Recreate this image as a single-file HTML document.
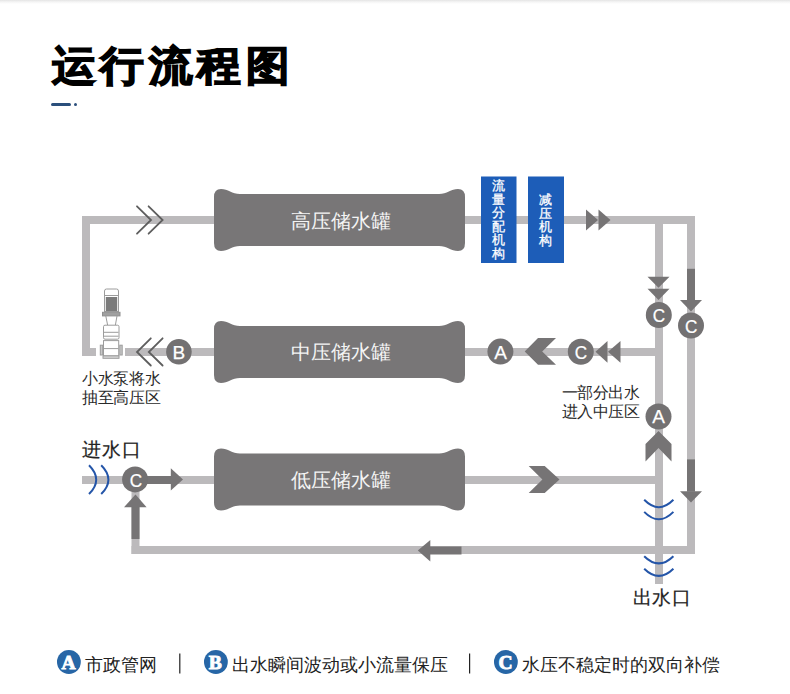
<!DOCTYPE html>
<html><head><meta charset="utf-8">
<style>
html,body{margin:0;padding:0;background:#fff;}
body{width:790px;height:694px;position:relative;overflow:hidden;font-family:"Liberation Sans",sans-serif;}
.t{position:absolute;white-space:nowrap;line-height:1;}
#topline{position:absolute;left:0;top:0;width:790px;height:4px;background:linear-gradient(#e4e4e4,#f4f4f4 45%,#fff);}
</style></head><body>
<div id="topline"></div>
<div class="t" style="left:51.5px;top:44.5px;font-size:44px;letter-spacing:4.6px;font-weight:900;color:#000;-webkit-text-stroke:1.6px #000;transform:scaleY(0.94);transform-origin:0 0;">运行流程图</div>
<div style="position:absolute;left:51px;top:103px;width:20px;height:3px;background:#2b4f7c;border-radius:1.5px;"></div>
<div style="position:absolute;left:74px;top:103px;width:3px;height:3px;background:#2b4f7c;border-radius:50%;"></div>

<svg width="790" height="694" style="position:absolute;left:0;top:0">
<defs>
<path id="tank" d="M0,8 Q0,0 7,0 C14,0 18,5 26,5 L225,5 C233,5 237,0 244,0 Q251,0 251,8 L251,54 Q251,62 244,62 C237,62 233,57 225,57 L26,57 C18,57 14,62 7,62 Q0,62 0,54 Z"/>
</defs>
<g fill="#bcbabc">
  <!-- left vertical -->
  <rect x="82" y="216" width="8" height="140"/>
  <!-- top pipe -->
  <rect x="82" y="216" width="613" height="8"/>
  <!-- outer right -->
  <rect x="687" y="216" width="8" height="338"/>
  <!-- inner right -->
  <rect x="655" y="216" width="8" height="368"/>
  <!-- mid pipe left stub -->
  <rect x="82" y="348" width="14" height="8"/>
  <rect x="125" y="348" width="538" height="8"/>
  <!-- low pipe -->
  <rect x="82" y="476" width="581" height="8"/>
  <!-- bottom pipe -->
  <rect x="131.5" y="546" width="563.5" height="8"/>
  <rect x="131.5" y="490" width="8" height="64"/>
</g>
<g fill="#787677">
  <use href="#tank" x="214" y="189"/>
  <use href="#tank" x="214" y="321"/>
  <use href="#tank" x="214" y="448.5"/>
</g>
<!-- blue boxes -->
<rect x="481" y="176.5" width="35.5" height="86.5" fill="#1d5db8"/>
<rect x="528" y="176.5" width="36" height="86.5" fill="#1d5db8"/>

<!-- top-left double chevrons -->
<g fill="none" stroke="#5e5e5e" stroke-width="1.8" stroke-linecap="round">
  <polyline points="137,206.3 151,220 137,233.7"/>
  <polyline points="148.6,206.3 162.6,220 148.6,233.7"/>
  <polyline points="150.8,338.3 137,352 150.8,365.5"/>
  <polyline points="162.6,338.3 148.8,352 162.6,365.5"/>
</g>
<g fill="#767475">
  <!-- right triangles on top pipe -->
  <polygon points="586,209.5 598,220 586,230.5"/>
  <polygon points="598.5,209.5 610.5,220 598.5,230.5"/>
  <!-- down triangles on inner pipe -->
  <polygon points="647.5,276.8 669.5,276.8 658.5,287.8"/>
  <polygon points="647.5,288.8 669.5,288.8 658.5,300"/>
  <!-- dark down arrow outer pipe -->
  <rect x="687" y="268.8" width="8" height="32"/>
  <polygon points="680,300 702,300 691,311.5"/>
  <!-- mid pipe left triangles -->
  <polygon points="595.5,351.8 607.5,341 607.5,362.7"/>
  <polygon points="608,351.8 620.5,341 620.5,362.7"/>
  <!-- mid chevron -->
  <polygon points="524.7,351.6 538,338 556,338 542.2,351.6 556,364.8 538,364.8"/>
  <!-- low chevron right -->
  <polygon points="528.7,466 544.7,466 559.5,479.5 544.7,493 528.7,493 542.4,479.5"/>
  <!-- up chevron A -->
  <polygon points="658.5,431 671.5,444 671.5,461.5 658.5,448 645.5,461.5 645.5,444"/>
  <!-- outer pipe lower dark arrow -->
  <rect x="687" y="459.4" width="8" height="32"/>
  <polygon points="680,491.3 702,491.3 691,502.6"/>
  <!-- bottom left arrow -->
  <rect x="430" y="546.5" width="31.5" height="8"/>
  <polygon points="417.8,550.5 430.3,540 430.3,561.6"/>
  <!-- low left right arrow -->
  <rect x="140" y="476" width="31" height="8"/>
  <polygon points="170.8,468.3 183,479.5 170.8,490.5"/>
  <!-- up arrow -->
  <rect x="131.5" y="507" width="8" height="32"/>
  <polygon points="124,507.2 146.6,507.2 135.5,494.5"/>
</g>
<!-- circles -->
<g fill="#737172">
  <circle cx="178.9" cy="351.7" r="12.8"/>
  <circle cx="500.4" cy="351.6" r="13"/>
  <circle cx="580.8" cy="351.7" r="13"/>
  <circle cx="658.8" cy="315" r="13"/>
  <circle cx="691" cy="325.5" r="13"/>
  <circle cx="658.5" cy="416.5" r="13"/>
  <circle cx="135.1" cy="479.4" r="13"/>
</g>
<!-- blue arcs -->
<g fill="none" stroke="#2455a8" stroke-width="2">
  <path d="M644.2,499.8 Q658.8,514.6 673.4,499.8"/>
  <path d="M644.2,511.9 Q658.8,526.7 673.4,511.9"/>
  <path d="M644.2,556.2 Q658.8,570.6 673.4,556.2"/>
  <path d="M644.2,568.7 Q658.8,583 673.4,568.7"/>
  <path d="M89,465.3 Q103.4,479.6 89,494"/>
  <path d="M101.2,465.3 Q115.6,479.6 101.2,494"/>
</g>
<!-- pump -->
<g fill="#fff" stroke="#9c9c9c" stroke-width="1">
  <path d="M104.5,296 L104.5,291 Q104.5,289 106.5,289 L116.5,289 Q118.5,289 118.5,291 L118.5,296 Z"/>
  <rect x="104.5" y="295.5" width="14" height="16"/>
  <rect x="102.5" y="312.3" width="17.5" height="3.6" fill="#a0a0a0" stroke="#8f8f8f"/>
  <path d="M105.8,316 L107.6,325 M117,316 L115.4,325" fill="none"/>
  <rect x="103.5" y="325.2" width="15.5" height="14" rx="1.5"/>
  <path d="M104,332.3 H118.5 M104,336.2 H118.5" fill="none"/>
  <rect x="103.5" y="340.6" width="15.2" height="15.3"/>
  <path d="M104,348.6 H118.5" fill="none"/>
  <rect x="100.3" y="345.2" width="2.4" height="9.8" fill="#c8c8c8"/>
  <rect x="119.8" y="345.2" width="2.4" height="9.8" fill="#c8c8c8"/>
  <rect x="103" y="355.9" width="16" height="2.4" fill="#d8d8d8"/>
</g>
<rect x="105.8" y="297" width="11.4" height="14" fill="#7b7b7b"/>
</svg>

<!-- tank labels -->
<div class="t" style="left:290.5px;top:210.5px;font-size:20px;color:#f4f4f4;">高压储水罐</div>
<div class="t" style="left:290.5px;top:342px;font-size:20px;color:#f4f4f4;">中压储水罐</div>
<div class="t" style="left:290.5px;top:469.5px;font-size:20px;color:#f4f4f4;">低压储水罐</div>
<!-- blue box text -->
<div class="t" style="left:492px;top:179px;width:14px;font-size:13px;line-height:13.5px;color:#fff;-webkit-text-stroke:0.3px #fff;white-space:normal;">流量分配机构</div>
<div class="t" style="left:539px;top:193px;width:14px;font-size:13px;line-height:13.5px;color:#fff;-webkit-text-stroke:0.3px #fff;white-space:normal;">减压机构</div>
<!-- circle letters -->
<svg width="790" height="694" style="position:absolute;left:0;top:0">
<g fill="#fff" stroke="#fff" stroke-width="0.25" font-family="Liberation Sans" font-size="19" text-anchor="middle">
  <text x="178.8" y="358.6">B</text>
  <text x="500.6" y="358.6">A</text>
  <text x="0" y="358.6" transform="translate(580.8,0) scale(0.9,1)">C</text>
  <text x="0" y="322.3" transform="translate(659,0) scale(0.9,1)">C</text>
  <text x="0" y="332.8" transform="translate(691.1,0) scale(0.9,1)">C</text>
  <text x="658.5" y="423.3">A</text>
  <text x="0" y="486.6" transform="translate(136,0) scale(0.9,1)">C</text>
</g>
</svg>
<!-- labels -->
<div class="t" style="left:82px;top:369px;font-size:16px;line-height:19px;letter-spacing:-0.35px;color:#2a2a2a;white-space:normal;width:80px;">小水泵将水<br>抽至高压区</div>
<div class="t" style="left:561.5px;top:383px;font-size:16px;line-height:19px;letter-spacing:-0.35px;color:#2a2a2a;white-space:normal;width:80px;">一部分出水<br>进入中压区</div>
<div class="t" style="left:82px;top:439.5px;font-size:19px;letter-spacing:1px;color:#222;-webkit-text-stroke:0.2px #222;">进水口</div>
<div class="t" style="left:632.5px;top:588px;font-size:19px;letter-spacing:0.8px;color:#222;-webkit-text-stroke:0.2px #222;">出水口</div>
<!-- legend -->
<svg width="790" height="694" style="position:absolute;left:0;top:0">
  <g fill="#2766a6">
    <circle cx="68.9" cy="662" r="11.9"/>
    <circle cx="215.9" cy="662" r="11.9"/>
    <circle cx="505.9" cy="662" r="11.9"/>
  </g>
  <g fill="#fff" stroke="#fff" stroke-width="0.9" font-family="Liberation Serif" font-weight="bold" font-size="19.5" text-anchor="middle">
    <text x="68.6" y="668.7">A</text>
    <text x="215.3" y="668.7">B</text>
    <text x="505.6" y="668.7">C</text>
  </g>
  <g fill="#222"><rect x="179.2" y="653.5" width="1.2" height="20"/><rect x="469" y="653.5" width="1.2" height="20"/></g>
</svg>
<div class="t" style="left:85px;top:657px;font-size:17.8px;color:#222;">市政管网</div>
<div class="t" style="left:232px;top:657px;font-size:17.8px;color:#222;">出水瞬间波动或小流量保压</div>
<div class="t" style="left:522px;top:657px;font-size:17.8px;color:#222;">水压不稳定时的双向补偿</div>
</body></html>
